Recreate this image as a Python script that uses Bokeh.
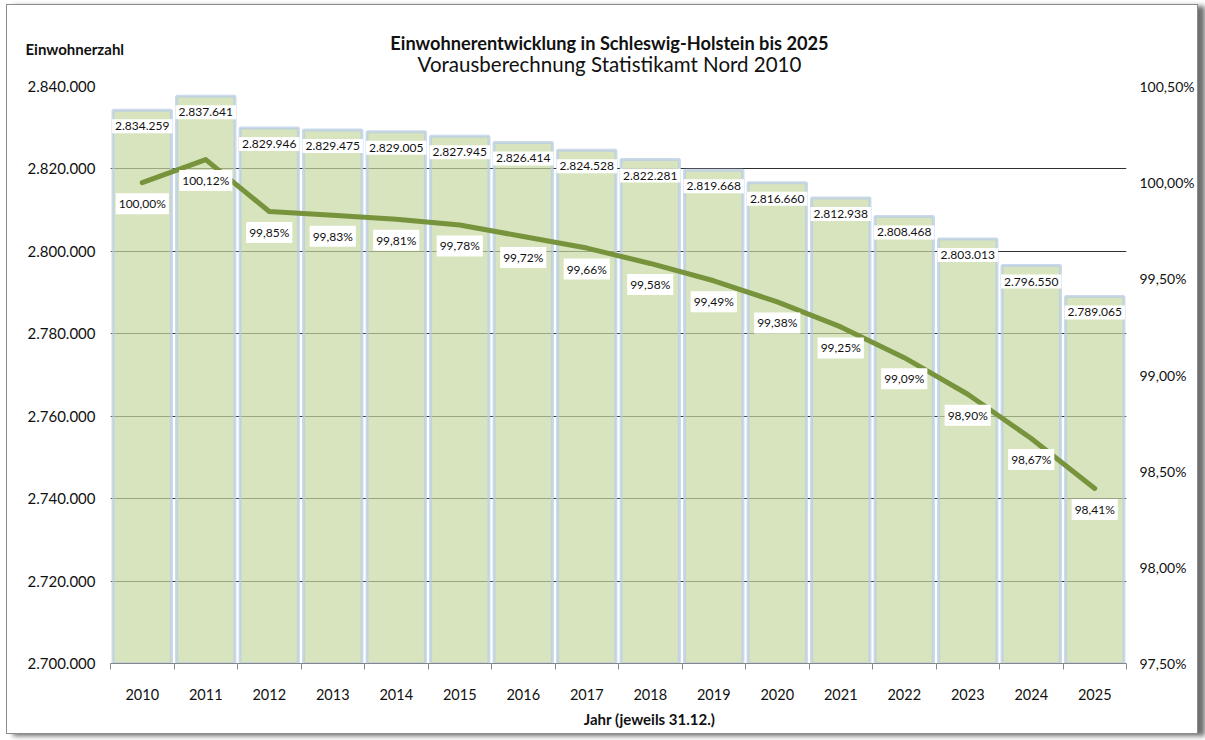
from bokeh.plotting import figure
from bokeh.layouts import column
from bokeh.models import ColumnDataSource, Range1d, LinearAxis, FixedTicker
from bokeh.core.properties import value
from bokeh.embed import file_html
from bokeh.resources import INLINE

years = [2010, 2011, 2012, 2013, 2014, 2015, 2016, 2017,
         2018, 2019, 2020, 2021, 2022, 2023, 2024, 2025]
population = [2834259, 2837641, 2829946, 2829475, 2829005, 2827945, 2826414, 2824528,
              2822281, 2819668, 2816660, 2812938, 2808468, 2803013, 2796550, 2789065]
percent = [100.00, 100.12, 99.85, 99.83, 99.81, 99.78, 99.72, 99.66,
           99.58, 99.49, 99.38, 99.25, 99.09, 98.90, 98.67, 98.41]

left_ticks = [2700000, 2720000, 2740000, 2760000, 2780000, 2800000, 2820000, 2840000]
left_tick_labels = ["2.700.000", "2.720.000", "2.740.000", "2.760.000",
                    "2.780.000", "2.800.000", "2.820.000", "2.840.000"]
right_ticks = [97.5, 98.0, 98.5, 99.0, 99.5, 100.0, 100.5]
right_tick_labels = ["97,50%", "98,00%", "98,50%", "99,00%", "99,50%", "100,00%", "100,50%"]

title_text = "Einwohnerentwicklung in Schleswig-Holstein bis 2025"
subtitle_text = "Vorausberechnung Statistikamt Nord 2010"
y_label = "Einwohnerzahl"
x_label = "Jahr (jeweils 31.12.)"

FONT = "Lato"
TXT = "#111111"
W = 1190
HEAD_H, MAIN_H, FOOT_H = 71, 629, 28

idx = list(range(len(years)))
pop_lbl = [f"{v:,}".replace(",", ".") for v in population]
pct_lbl = [f"{v:.2f}".replace(".", ",") + "%" for v in percent]
src = ColumnDataSource(dict(x=idx, pop=population, pct=percent, pop_lbl=pop_lbl, pct_lbl=pct_lbl))


def no_align(fig):
    try:
        fig.frame_align = False
    except Exception:
        pass


def text_panel(h):
    f = figure(width=W, height=h, x_range=Range1d(0, W), y_range=Range1d(h, 0),
               x_axis_type=None, y_axis_type=None, output_backend="svg",
               toolbar_location=None, min_border=0, outline_line_color=None,
               background_fill_color="white", border_fill_color="white")
    f.xgrid.visible = False
    f.ygrid.visible = False
    no_align(f)
    return f


# ---- header with title, subtitle and y-axis caption
head = text_panel(HEAD_H)
head.text(x=[602], y=[37], text=[title_text], text_align="center", text_baseline="middle",
          text_font=value(FONT), text_font_style="bold", text_font_size="18.2px", text_color=TXT)
head.text(x=[602], y=[58], text=[subtitle_text], text_align="center", text_baseline="middle",
          text_font=value(FONT), text_font_size="20.5px", text_color=TXT)
head.text(x=[18], y=[43], text=[y_label], text_align="left", text_baseline="middle",
          text_font=value(FONT), text_font_style="bold", text_font_size="15px", text_color=TXT)

# ---- main chart
p = figure(width=W, height=MAIN_H,
           x_range=Range1d(-0.5, len(years) - 0.5),
           y_range=Range1d(left_ticks[0], left_ticks[-1]),
           output_backend="svg", toolbar_location=None,
           min_border_left=103, min_border_right=70, min_border_top=10, min_border_bottom=42,
           background_fill_color="white", border_fill_color="white",
           outline_line_color=None)
no_align(p)
p.extra_y_ranges = {"pct": Range1d(right_ticks[0], right_ticks[-1])}

# x axis: labels at category centres, ticks at category boundaries
p.xaxis.ticker = FixedTicker(ticks=idx, minor_ticks=[i - 0.5 for i in range(len(years) + 1)])
p.xaxis.major_label_overrides = {i: str(y) for i, y in zip(idx, years)}
p.xaxis.major_tick_out = 0
p.xaxis.major_tick_in = 0
p.xaxis.minor_tick_out = 6
p.xaxis.minor_tick_in = 0
p.xaxis.minor_tick_line_color = "#868686"
p.xaxis.axis_line_color = "#868686"
p.xaxis.major_label_standoff = 19
p.xaxis.major_label_text_font = FONT
p.xaxis.major_label_text_font_size = "14.5px"
p.xaxis.major_label_text_color = TXT

# left axis
p.yaxis.ticker = FixedTicker(ticks=left_ticks)
p.yaxis.major_label_overrides = {t: l for t, l in zip(left_ticks, left_tick_labels)}
p.yaxis.axis_line_color = None
p.yaxis.major_tick_line_color = None
p.yaxis.minor_tick_line_color = None
p.yaxis.major_tick_out = 0
p.yaxis.major_tick_in = 0
p.yaxis.major_label_standoff = 15
p.yaxis.major_label_text_font = FONT
p.yaxis.major_label_text_font_size = "15px"
p.yaxis.major_label_text_color = TXT

# right axis
ra = LinearAxis(y_range_name="pct", ticker=FixedTicker(ticks=right_ticks))
ra.major_label_overrides = {t: l for t, l in zip(right_ticks, right_tick_labels)}
ra.axis_line_color = None
ra.major_tick_line_color = None
ra.minor_tick_line_color = None
ra.major_tick_out = 0
ra.major_tick_in = 0
ra.major_label_standoff = 13
ra.major_label_text_font = FONT
ra.major_label_text_font_size = "14px"
ra.major_label_text_color = TXT
p.add_layout(ra, "right")

p.xgrid.grid_line_color = None
p.ygrid.ticker = FixedTicker(ticks=left_ticks)
p.ygrid.grid_line_color = "#303030"
p.ygrid.grid_line_width = 1

# bars
p.vbar(x="x", top="pop", bottom=left_ticks[0], width=0.92, source=src,
       fill_color="#c6d8a1", fill_alpha=0.7,
       line_color="#b8cce4", line_width=3, line_alpha=0.75)

# line
p.line(x="x", y="pct", source=src, y_range_name="pct",
       line_color="#77933c", line_width=5, line_join="round", line_cap="round")

# data labels
p.text(x="x", y="pop", text="pop_lbl", source=src,
       text_align="center", text_baseline="middle", y_offset=16,
       text_font=value(FONT), text_font_size="12px", text_color=TXT,
       background_fill_color="white", padding=3)
p.text(x="x", y="pct", text="pct_lbl", source=src, y_range_name="pct",
       text_align="center", text_baseline="middle", y_offset=21,
       text_font=value(FONT), text_font_size="12px", text_color=TXT,
       background_fill_color="white", padding=3)

# ---- footer with x-axis caption
foot = text_panel(FOOT_H)
foot.text(x=[642], y=[13], text=[x_label], text_align="center", text_baseline="middle",
          text_font=value(FONT), text_font_style="bold", text_font_size="15px", text_color=TXT)

layout = column(head, p, foot, spacing=0,
                styles={"margin-left": "6px", "margin-top": "4px",
                        "border": "1px solid #8c8c8c",
                        "box-shadow": "7px 2px 5px #6f6f6f",
                        "background-color": "white"})

open("out.html", "w").write(file_html(layout, INLINE))
